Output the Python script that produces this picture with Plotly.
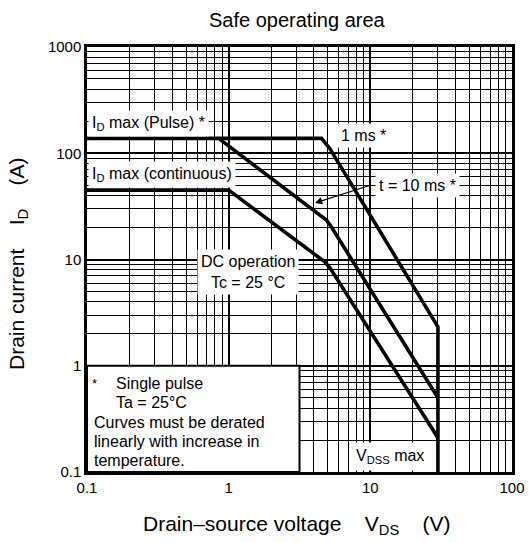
import plotly.graph_objects as go

# ---- data ----
v_1ms = [0.1, 4.52, 5.17, 30, 30]
i_1ms = [138, 138, 111, 2.32, 0.1]
v_10ms = [0.85, 4.9, 5.3, 30]
i_10ms = [138, 23.5, 20.3, 0.5]
v_dc = [0.1, 1.0, 4.77, 5.2, 30]
i_dc = [45, 45, 9.5, 8.3, 0.21]

x_ticks = [0.1, 1, 10, 100]
x_tick_text = ["0.1", "1", "10", "100"]
y_ticks = [0.1, 1, 10, 100, 1000]
y_tick_text = ["0.1", "1", "10", "100", "1000"]

FONT = "Liberation Sans, Arial, Helvetica, sans-serif"
W, H = 529, 543
L, R, T, B = 87, 17, 47, 71
PW, PH = W - L - R, H - T - B


def px(x):
    return (x - L) / PW


def py(y):
    return (H - B - y) / PH


def minor_vals(lo_exp, hi_exp):
    return [m * 10 ** e for e in range(lo_exp, hi_exp) for m in range(2, 10)]


fig = go.Figure()
line_style = dict(color="black", width=3.6)
fig.add_trace(go.Scatter(x=v_1ms, y=i_1ms, mode="lines", line=line_style, showlegend=False))
fig.add_trace(go.Scatter(x=v_10ms, y=i_10ms, mode="lines", line=line_style, showlegend=False))
fig.add_trace(go.Scatter(x=v_dc, y=i_dc, mode="lines", line=line_style, showlegend=False))

axis_common = dict(
    type="log",
    showgrid=True,
    gridcolor="black",
    gridwidth=2,
    showline=True,
    linecolor="black",
    linewidth=2.5,
    mirror=True,
    ticks="",
    tickfont=dict(family=FONT, size=15, color="black"),
    zeroline=False,
    automargin=False,
)

fig.update_xaxes(
    range=[-1, 2],
    tickmode="array",
    tickvals=x_ticks,
    ticktext=x_tick_text,
    minor=dict(tickvals=minor_vals(-1, 2), showgrid=True, gridcolor="black", gridwidth=1.2, ticks=""),
    **axis_common,
)
fig.update_yaxes(
    range=[-1, 3],
    tickmode="array",
    tickvals=y_ticks,
    ticktext=y_tick_text,
    minor=dict(tickvals=minor_vals(-1, 3), showgrid=True, gridcolor="black", gridwidth=1.2, ticks=""),
    **axis_common,
)

# note box lower-left
fig.add_shape(type="rect", xref="paper", yref="paper", x0=0, x1=0.5, y0=0, y1=0.25,
              fillcolor="white", line=dict(color="black", width=2), layer="above")

anns = []


def lab(text, x, y, xanchor="left", size=16, bg="white", pad=3, yanchor="middle"):
    anns.append(dict(text=text, x=px(x), y=py(y), xref="paper", yref="paper",
                     xanchor=xanchor, yanchor=yanchor, showarrow=False,
                     font=dict(family=FONT, size=size, color="black"),
                     bgcolor=bg, borderpad=pad))


lab("I<sub>D</sub> max (Pulse) *", 88, 123)
lab("I<sub>D</sub> max (continuous)", 88, 174)
lab("1 ms *", 337, 135)
lab("t = 10 ms *", 375, 185)
lab("DC operation<br>Tc = 25 °C", 248, 272, xanchor="center")
lab("V<sub>DSS</sub> max", 390, 456, xanchor="center", pad=4)

# note texts
lab("*", 91, 383, bg=None, pad=0, size=13)
lab("Single pulse", 115, 383, bg=None, pad=0)
lab("Ta = 25°C", 115, 402, bg=None, pad=0)
lab("Curves must be derated", 93, 422, bg=None, pad=0)
lab("linearly with increase in", 93, 441, bg=None, pad=0)
lab("temperature.", 93, 460, bg=None, pad=0)

# arrow for 10 ms
anns.append(dict(text="", x=px(315), y=py(203), xref="paper", yref="paper",
                 ax=56, ay=-18, axref="pixel", ayref="pixel",
                 showarrow=True, arrowhead=2, arrowsize=1.2, arrowwidth=1.2,
                 arrowcolor="black", standoff=0))

# title and axis titles
anns.append(dict(text="Safe operating area", x=px(297), y=py(20), xref="paper", yref="paper",
                 xanchor="center", yanchor="middle", showarrow=False,
                 font=dict(family=FONT, size=20, color="black")))
sp = "\u00a0\u00a0\u00a0\u00a0"
anns.append(dict(text="Drain\u2013source voltage" + sp + "V<sub>DS</sub>" + sp + "(V)",
                 x=px(297), y=py(525), xref="paper", yref="paper",
                 xanchor="center", yanchor="middle", showarrow=False,
                 font=dict(family=FONT, size=21, color="black")))
anns.append(dict(text="Drain current" + sp + "I<sub>D</sub>" + sp + "(A)",
                 x=px(18), y=py(264), xref="paper", yref="paper",
                 xanchor="center", yanchor="middle", showarrow=False, textangle=-90,
                 font=dict(family=FONT, size=21, color="black")))

fig.update_layout(
    width=W, height=H, autosize=False,
    margin=dict(l=L, r=R, t=T, b=B, pad=0, autoexpand=False),
    paper_bgcolor="white", plot_bgcolor="white",
    annotations=anns,
    showlegend=False,
    font=dict(family=FONT, color="black"),
)

fig.write_html("out.html", config={"displayModeBar": False},
               post_script="document.body.style.margin='0';")
